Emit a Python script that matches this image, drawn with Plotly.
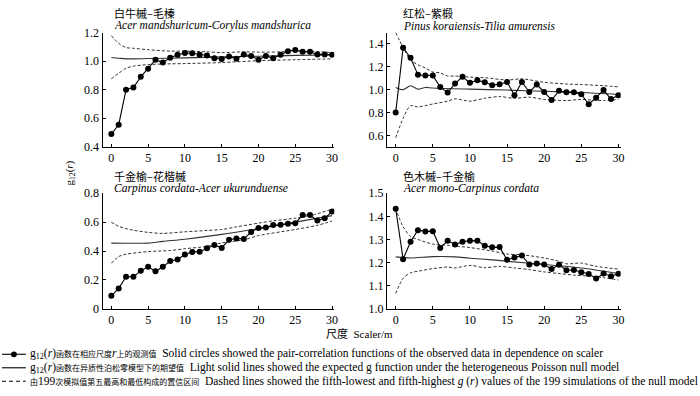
import plotly.graph_objects as go

# ---------------- data ----------------
r = list(range(31))

# Panel A: 白牛槭–毛榛
obs_A = [0.49, 0.555, 0.80, 0.815, 0.89, 0.947, 1.01, 0.99, 1.023, 1.045, 1.057, 1.055, 1.045, 1.04, 1.02,
         1.015, 1.032, 1.016, 1.047, 1.036, 1.01, 1.036, 1.02, 1.045, 1.07, 1.078, 1.065, 1.065, 1.047, 1.047, 1.045]
exp_r_A = [0, 1, 2, 5, 10, 15, 20, 25, 30]
exp_A = [1.025, 1.02, 1.016, 1.018, 1.023, 1.03, 1.034, 1.04, 1.043]
up_r_A = [0, 1, 2, 3, 5, 8, 10, 13, 15, 18, 20, 23, 25, 27, 30]
up_A = [1.178, 1.125, 1.095, 1.09, 1.08, 1.07, 1.07, 1.065, 1.06, 1.065, 1.063, 1.065, 1.075, 1.07, 1.06]
lo_r_A = [0, 1, 2, 3, 5, 7, 10, 15, 20, 25, 30]
lo_A = [0.877, 0.915, 0.95, 0.965, 0.976, 0.98, 0.983, 0.99, 1.003, 1.01, 1.016]

# Panel B: 红松–紫椴
obs_B = [0.80, 1.367, 1.28, 1.13, 1.124, 1.124, 1.023, 0.975, 1.054, 1.113, 1.06, 1.082, 1.065, 1.04, 1.048,
         1.068, 0.952, 1.068, 0.98, 1.045, 0.98, 0.91, 0.99, 0.977, 0.977, 0.96, 0.873, 0.93, 0.997, 0.918, 0.952]
exp_r_B = [0, 1, 2, 3, 4, 5, 10, 15, 20, 25, 30]
exp_B = [1.02, 1.0, 1.035, 1.005, 1.02, 1.015, 1.005, 0.997, 0.986, 0.975, 0.958]
up_r_B = [0, 1, 2, 3, 4, 5, 6, 7, 8, 10, 12, 15, 17, 20, 23, 25, 28, 30]
up_B = [1.50, 1.37, 1.26, 1.218, 1.19, 1.155, 1.147, 1.12, 1.12, 1.11, 1.105, 1.085, 1.095, 1.065, 1.05, 1.045,
        1.035, 1.025]
lo_r_B = [0, 1, 2, 3, 5, 7, 8, 10, 12, 14, 16, 18, 20, 23, 25, 28, 30]
lo_B = [0.58, 0.75, 0.86, 0.85, 0.875, 0.90, 0.92, 0.90, 0.925, 0.94, 0.925, 0.935, 0.915, 0.905, 0.915, 0.905,
        0.915]

# Panel C: 千金榆–花楷槭
obs_C = [0.091, 0.142, 0.222, 0.222, 0.264, 0.291, 0.26, 0.291, 0.331, 0.342, 0.376, 0.393, 0.396, 0.42, 0.442,
         0.422, 0.478, 0.487, 0.484, 0.531, 0.56, 0.562, 0.58, 0.582, 0.589, 0.593, 0.649, 0.649, 0.611, 0.627, 0.673]
exp_r_C = [0, 5, 7, 10, 15, 20, 25, 30]
exp_C = [0.455, 0.455, 0.467, 0.482, 0.515, 0.555, 0.60, 0.645]
up_r_C = [0, 1, 2, 3, 5, 7, 10, 13, 15, 17, 20, 22, 25, 27, 30]
up_C = [0.60, 0.571, 0.555, 0.544, 0.529, 0.522, 0.533, 0.542, 0.549, 0.567, 0.593, 0.609, 0.627, 0.644, 0.689]
lo_r_C = [0, 1, 2, 5, 8, 10, 13, 15, 18, 20, 25, 28, 30]
lo_C = [0.316, 0.362, 0.378, 0.396, 0.404, 0.416, 0.433, 0.456, 0.478, 0.507, 0.549, 0.578, 0.607]

# Panel D: 色木槭–千金榆
obs_D = [1.433, 1.215, 1.29, 1.34, 1.335, 1.336, 1.263, 1.295, 1.278, 1.29, 1.295, 1.294, 1.273, 1.266, 1.267,
         1.212, 1.222, 1.231, 1.192, 1.196, 1.192, 1.172, 1.191, 1.167, 1.168, 1.159, 1.151, 1.132, 1.153, 1.141, 1.152]
exp_r_D = [0, 2, 5, 8, 10, 13, 15, 20, 25, 30]
exp_D = [1.225, 1.22, 1.226, 1.225, 1.219, 1.212, 1.206, 1.192, 1.177, 1.153]
up_r_D = [0, 1, 2, 3, 5, 7, 10, 13, 15, 17, 20, 22, 23, 25, 27, 30]
up_D = [1.435, 1.355, 1.313, 1.30, 1.28, 1.275, 1.265, 1.25, 1.237, 1.234, 1.22, 1.206, 1.195, 1.198, 1.184, 1.172]
lo_r_D = [0, 1, 2, 3, 5, 7, 8, 10, 12, 14, 16, 18, 20, 22, 24, 26, 28, 30]
lo_D = [1.067, 1.132, 1.156, 1.163, 1.174, 1.181, 1.177, 1.188, 1.178, 1.184, 1.177, 1.17, 1.16, 1.153, 1.146,
        1.142, 1.135, 1.125]

titles_cn = ["白牛槭–毛榛", "红松–紫椴", "千金榆–花楷槭", "色木槭–千金榆"]
titles_la = ["Acer mandshuricum-Corylus mandshurica", "Pinus koraiensis-Tilia amurensis",
             "Carpinus cordata-Acer ukurunduense", "Acer mono-Carpinus cordata"]

y_ranges = [[0.4, 1.2], [0.5, 1.5], [0.0, 0.8], [1.0, 1.5]]
y_ticks = [[0.4, 0.6, 0.8, 1.0, 1.2], [0.6, 0.8, 1.0, 1.2, 1.4], [0, 0.2, 0.4, 0.6, 0.8],
           [1.0, 1.1, 1.2, 1.3, 1.4, 1.5]]
y_ticktext = [["0.4", "0.6", "0.8", "1.0", "1.2"], ["0.6", "0.8", "1.0", "1.2", "1.4"],
              ["0", "0.2", "0.4", "0.6", "0.8"], ["1.0", "1.1", "1.2", "1.3", "1.4", "1.5"]]
x_ticks = [0, 5, 10, 15, 20, 25, 30]

panels = [
    (obs_A, exp_r_A, exp_A, up_r_A, up_A, lo_r_A, lo_A),
    (obs_B, exp_r_B, exp_B, up_r_B, up_B, lo_r_B, lo_B),
    (obs_C, exp_r_C, exp_C, up_r_C, up_C, lo_r_C, lo_C),
    (obs_D, exp_r_D, exp_D, up_r_D, up_D, lo_r_D, lo_D),
]

# ---------------- layout geometry ----------------
W, H = 700, 396
x_dom = [[103.1 / W, 336.2 / W], [389.0 / W, 624.2 / W]]
y_dom = [[1 - 145 / H, 1 - 26.5 / H], [1 - 313 / H, 1 - 193 / H]]

SERIF = "Liberation Serif, Times New Roman, serif"
CJK = "Noto Sans CJK SC, sans-serif"
GREY = "#333333"

fig = go.Figure()
layout = dict(width=W, height=H, margin=dict(l=0, r=0, t=0, b=0),
              paper_bgcolor="white", plot_bgcolor="white", showlegend=False,
              font=dict(family=SERIF, size=12, color="black"))
annotations = []
shapes = []

for i, (obs, er, ev, ur, uv, lr, lv) in enumerate(panels):
    col = i % 2
    row = i // 2
    n = "" if i == 0 else str(i + 1)
    xa, ya = "x" + n, "y" + n
    fig.add_trace(go.Scatter(x=ur, y=uv, mode="lines", xaxis=xa, yaxis=ya,
                             line=dict(color=GREY, width=1, dash="3px,2px", shape="spline", smoothing=0.8)))
    fig.add_trace(go.Scatter(x=lr, y=lv, mode="lines", xaxis=xa, yaxis=ya,
                             line=dict(color=GREY, width=1, dash="3px,2px", shape="spline", smoothing=0.8)))
    fig.add_trace(go.Scatter(x=er, y=ev, mode="lines", xaxis=xa, yaxis=ya,
                             line=dict(color=GREY, width=1.1, shape="spline", smoothing=0.8)))
    fig.add_trace(go.Scatter(x=r, y=obs, mode="lines+markers", xaxis=xa, yaxis=ya,
                             line=dict(color="black", width=1.1),
                             marker=dict(color="black", size=6, symbol="circle")))
    axis_common = dict(showline=True, linecolor="black", linewidth=1, showgrid=False, zeroline=False,
                       ticks="inside", ticklen=3, tickcolor="black", tickfont=dict(family=SERIF, size=12))
    layout["xaxis" + n] = dict(domain=x_dom[col], anchor=ya, range=[-1.2, 30.3], tickvals=x_ticks,
                               **axis_common)
    layout["yaxis" + n] = dict(domain=y_dom[row], anchor=xa, range=y_ranges[i], tickvals=y_ticks[i],
                               ticktext=y_ticktext[i], **axis_common)
    tx = (113 if col == 0 else 403) / W
    ty_cn = 6 if row == 0 else 175
    ty_la = 19.5 if row == 0 else 188
    annotations.append(dict(text=titles_cn[i], xref="paper", yref="paper", x=tx, y=1 - ty_cn / H,
                            xanchor="left", yanchor="middle", showarrow=False,
                            font=dict(family=CJK, size=11, color="black")))
    annotations.append(dict(text="<i>" + titles_la[i] + "</i>", xref="paper", yref="paper", x=tx,
                            y=1 - ty_la / H, xanchor="left", yanchor="middle", showarrow=False,
                            font=dict(family=SERIF, size=11.5, color="black")))

# axis titles
annotations.append(dict(text="g<sub>12</sub>(<i>r</i>)", xref="paper", yref="paper", x=70 / W, y=1 - 172 / H,
                        textangle=-90, xanchor="center", yanchor="middle", showarrow=False,
                        font=dict(family=SERIF, size=11, color="black")))
annotations.append(dict(text="<span style='font-family:Noto Sans CJK SC'>尺度</span>\u00a0 Scaler/m",
                        xref="paper", yref="paper", x=362 / W, y=1 - 338 / H,
                        xanchor="center", yanchor="middle", showarrow=False,
                        font=dict(family=SERIF, size=11, color="black")))

# legend (drawn as key)
leg_y = [360, 374, 388]
cn = "<span style='font-family:Noto Sans CJK SC;font-size:8px'>"
leg_text = [
    "g<sub>12</sub>(<i>r</i>)" + cn + "函数在相应尺度</span><i>r</i>" + cn + "上的观测值</span>\u00a0 "
    "Solid circles showed the pair-correlation functions of the observed data in dependence on scaler",
    "g<sub>12</sub>(<i>r</i>)" + cn + "函数在异质性泊松零模型下的期望值</span>\u00a0 "
    "Light solid lines showed the expected g function under the heterogeneous Poisson null model",
    cn + "由</span>199" + cn + "次模拟值第五最高和最低构成的置信区间</span>\u00a0 "
    "Dashed lines showed the fifth-lowest and fifth-highest <i>g</i> (<i>r</i>) values of the 199 "
    "simulations of the null model",
]
for k, (yy, t) in enumerate(zip(leg_y, leg_text)):
    annotations.append(dict(text=t, xref="paper", yref="paper", x=28 / W, y=1 - yy / H,
                            xanchor="left", yanchor="middle", showarrow=False,
                            font=dict(family=SERIF, size=11.5, color="black")))
    dash = "solid" if k < 2 else "4px,3px"
    shapes.append(dict(type="line", xref="paper", yref="paper", x0=2 / W, x1=26 / W,
                       y0=1 - yy / H, y1=1 - yy / H, line=dict(color="black", width=1.1, dash=dash)))
shapes.append(dict(type="circle", xref="paper", yref="paper", x0=11 / W, x1=17 / W,
                   y0=1 - (leg_y[0] + 3) / H, y1=1 - (leg_y[0] - 3) / H,
                   fillcolor="black", line=dict(color="black", width=0)))

layout["annotations"] = annotations
layout["shapes"] = shapes
fig.update_layout(**layout)
fig.write_html("out.html", config={"displayModeBar": False},
               post_script="document.body.style.margin='0';document.body.style.overflow='hidden';")
